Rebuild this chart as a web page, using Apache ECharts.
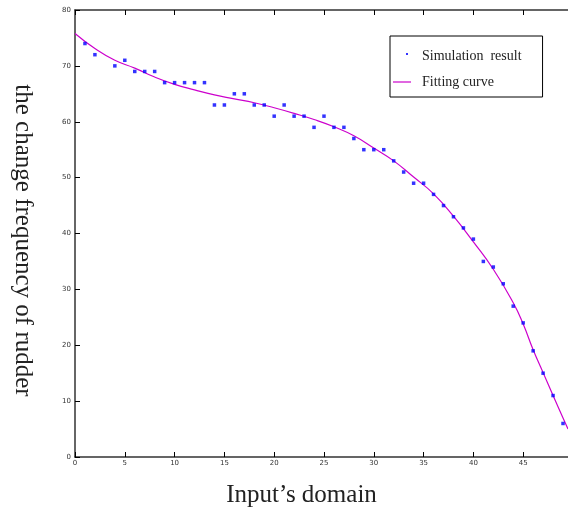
<!DOCTYPE html>
<html>
<head>
<meta charset="utf-8">
<script src="https://cdn.jsdelivr.net/npm/echarts@6/dist/echarts.min.js"></script>
<style>
  html, body { margin: 0; padding: 0; background: #fff; }
  #main { width: 568px; height: 513px; }
</style>
</head>
<body>
<div id="main"></div>
<script>
var chartDom = document.getElementById('main');
var myChart = echarts.init(chartDom);

// simulation points
var simX = [1, 2, 4, 5, 6, 7, 8, 9, 10, 11, 12, 13, 14, 15, 16, 17, 18, 19, 20,
  21, 22, 23, 24, 25, 26, 27, 28, 29, 30, 31, 32, 33, 34, 35, 36, 37, 38, 39,
  40, 41, 42, 43, 44, 45, 46, 47, 48, 49];
var simY = [74, 72, 70, 71, 69, 69, 69, 67, 67, 67, 67, 67, 63, 63, 65, 65, 63, 63, 61,
  63, 61, 61, 59, 61, 59, 59, 57, 55, 55, 55, 53, 51, 49, 49, 47, 45, 43, 41,
  39, 35, 34, 31, 27, 24, 19, 15, 11, 6];

// fitting curve
var fitX = [0, 2, 4, 6, 8, 10, 12, 14, 16, 18, 20, 22, 24, 26, 28, 30, 32, 34,
  36, 38, 40, 42, 44, 45, 46, 47, 48, 49, 49.5];
var fitY = [75.8, 73.1, 71.0, 69.6, 68.0, 66.7, 65.7, 64.8, 64.1, 63.4, 62.5, 61.5, 60.4, 59.1, 57.5, 55.3, 53.0, 50.1,
  47.1, 43.1, 38.5, 33.6, 27.6, 23.8, 19.2, 15.1, 11.0, 7.0, 5.0];

var simData = [];
for (let i = 0; i < simX.length; i++) {
  simData.push([simX[i], simY[i]]);
}
var fitData = [];
for (let i = 0; i < fitX.length; i++) {
  fitData.push([fitX[i], fitY[i]]);
}

var axisColor = '#333';
var tickLabel = {
  fontSize: 7,
  color: '#333',
  fontFamily: 'DejaVu Sans'
};

var option = {
  backgroundColor: '#fff',
  animation: false,
  grid: {
    left: 75,
    right: 0,
    top: 10,
    bottom: 55
  },
  legend: {
    orient: 'vertical',
    left: 390,
    top: 36,
    padding: [13, 21, 8, 3],
    itemGap: 12,
    itemWidth: 18,
    itemHeight: 10,
    borderColor: '#000',
    borderWidth: 1,
    textStyle: {
      fontFamily: 'Liberation Serif',
      fontSize: 14,
      color: '#222',
      padding: [0, 0, 0, 6]
    },
    data: [
      { name: 'Simulation  result', icon: 'path://M0,0M18,0M18,10M0,10M13,2h2v2h-2z' },
      { name: 'Fitting curve', icon: 'path://M0,0M18,0M18,10M0,10M0,4.4h18v1.2h-18z' }
    ]
  },
  xAxis: [
    {
      type: 'value',
      min: 0,
      max: 49.5,
      interval: 5,
      name: 'Input\u2019s domain',
      nameLocation: 'middle',
      nameGap: 26,
      nameTextStyle: {
        fontFamily: 'Liberation Serif',
        fontSize: 25,
        color: '#222',
        padding: [0, 40, 0, 0]
      },
      splitLine: { show: false },
      axisLine: { lineStyle: { color: axisColor, width: 1.5 } },
      axisTick: { inside: true, length: 5, lineStyle: { color: '#000' } },
      axisLabel: Object.assign({ margin: 3, showMaxLabel: false }, tickLabel)
    },
    {
      type: 'value',
      position: 'top',
      min: 0,
      max: 49.5,
      interval: 5,
      splitLine: { show: false },
      axisLine: { onZero: false, lineStyle: { color: axisColor, width: 1.5 } },
      axisTick: { inside: true, length: 5, lineStyle: { color: '#000' } },
      axisLabel: { show: false }
    }
  ],
  yAxis: {
    type: 'value',
    min: 0,
    max: 80,
    interval: 10,
    name: 'the change frequency of rudder',
    nameLocation: 'middle',
    nameRotate: -90,
    nameGap: 40,
    nameTextStyle: {
      fontFamily: 'Liberation Serif',
      fontSize: 25,
      color: '#222',
      padding: [0, 0, 0, 14]
    },
    splitLine: { show: false },
    axisLine: { show: true, lineStyle: { color: axisColor, width: 1.5 } },
    axisTick: { show: true, inside: true, length: 5, lineStyle: { color: '#000' } },
    axisLabel: Object.assign({ margin: 4 }, tickLabel)
  },
  series: [
    {
      name: 'Simulation  result',
      type: 'scatter',
      symbol: 'rect',
      symbolSize: 3.5,
      itemStyle: { color: '#0000ff' },
      data: simData,
      z: 3
    },
    {
      name: 'Fitting curve',
      type: 'line',
      smooth: true,
      showSymbol: false,
      symbol: 'none',
      lineStyle: { color: '#cc00cc', width: 1.2 },
      itemStyle: { color: '#cc00cc' },
      data: fitData,
      z: 2
    }
  ]
};

option && myChart.setOption(option);
</script>
</body>
</html>
